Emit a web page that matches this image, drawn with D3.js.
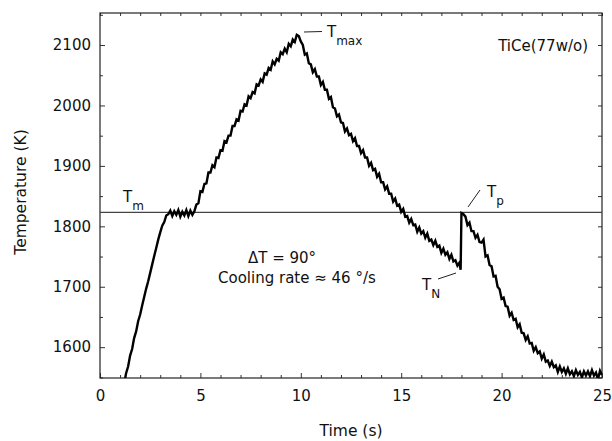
<!DOCTYPE html>
<html>
<head>
<meta charset="utf-8">
<script src="https://cdn.jsdelivr.net/npm/d3@7"></script>
<style>
  body { margin: 0; background: #fff; }
  svg text { font-family: "DejaVu Sans", sans-serif; fill: #111; }
</style>
</head>
<body>
<div id="container"></div>
<script>
const width = 612;
const height = 441;
const plotLeft = 100, plotRight = 602, plotTop = 13, plotBottom = 378;

// temperature trace (s, K)
const timeS = [1.25, 1.3, 1.4, 1.5, 1.6, 1.7, 1.8, 1.9, 2.0, 2.1, 2.2, 2.3, 2.4, 2.5, 2.6, 2.7, 2.8, 2.9, 3.0, 3.1, 3.2, 3.3, 3.4,
  3.5, 3.6, 3.7, 3.8, 3.9, 4.0, 4.1, 4.2, 4.3, 4.4, 4.5, 4.6, 4.7,
  4.8, 4.9, 5.0, 5.1, 5.2, 5.3, 5.4, 5.5, 5.6, 5.7, 5.8, 5.9, 6.0, 6.1, 6.2, 6.3, 6.4, 6.5, 6.6, 6.7, 6.8, 6.9,
  7.0, 7.1, 7.2, 7.3, 7.4, 7.5, 7.6, 7.7, 7.8, 7.9, 8.0, 8.1, 8.2, 8.3, 8.4, 8.5, 8.6, 8.7, 8.8, 8.9,
  9.0, 9.1, 9.2, 9.3, 9.4, 9.5, 9.6, 9.7, 9.8, 9.9,
  10.0, 10.1, 10.2, 10.3, 10.4, 10.5, 10.6, 10.7, 10.8, 10.9, 11.0, 11.1, 11.2, 11.3, 11.4, 11.5, 11.6, 11.7, 11.8, 11.9,
  12.0, 12.1, 12.2, 12.3, 12.4, 12.5, 12.6, 12.7, 12.8, 12.9, 13.0, 13.1, 13.2, 13.3, 13.4, 13.5, 13.6, 13.7, 13.8, 13.9,
  14.0, 14.1, 14.2, 14.3, 14.4, 14.5, 14.6, 14.7, 14.8, 14.9, 15.0, 15.1, 15.2, 15.3, 15.4, 15.5, 15.6, 15.7, 15.8, 15.9,
  16.0, 16.1, 16.2, 16.3, 16.4, 16.5, 16.6, 16.7, 16.8, 16.9, 17.0, 17.1, 17.2, 17.3, 17.4, 17.5, 17.6, 17.7, 17.8, 17.9,
  17.96, 18.0,
  18.1, 18.2, 18.3, 18.4, 18.5, 18.6, 18.7, 18.8, 18.9, 19.0, 19.1, 19.2, 19.3, 19.4, 19.5, 19.6, 19.7, 19.8, 19.9,
  20.0, 20.1, 20.2, 20.3, 20.4, 20.5, 20.6, 20.7, 20.8, 20.9, 21.0, 21.1, 21.2, 21.3, 21.4, 21.5, 21.6, 21.7, 21.8, 21.9,
  22.0, 22.1, 22.2, 22.3, 22.4, 22.5, 22.6, 22.7, 22.8, 22.9, 23.0, 23.1, 23.2, 23.3, 23.4, 23.5, 23.6, 23.7, 23.8, 23.9,
  24.0, 24.1, 24.2, 24.3, 24.4, 24.5, 24.6, 24.7, 24.8, 24.9, 25.0];
const tempK = [1548, 1557, 1568, 1586, 1597, 1615, 1626, 1643, 1654, 1669, 1683, 1697, 1709, 1723, 1737, 1751, 1764, 1778, 1790, 1801, 1807, 1818, 1820,
  1826, 1817, 1825, 1819, 1827, 1816, 1824, 1818, 1827, 1817, 1826, 1819, 1825,
  1836, 1838, 1858, 1857, 1870, 1871, 1889, 1889, 1901, 1898, 1914, 1913, 1926, 1925, 1941, 1939, 1950, 1950, 1966, 1966, 1977, 1975,
  1991, 1990, 2002, 2000, 2015, 2012, 2022, 2020, 2035, 2033, 2043, 2039, 2053, 2051, 2062, 2059, 2073, 2068, 2077, 2074,
  2088, 2085, 2094, 2088, 2102, 2098, 2109, 2105, 2117, 2115,
  2106, 2100, 2084, 2086, 2070, 2068, 2055, 2060, 2048, 2048, 2034, 2039, 2026, 2026, 2011, 2014, 1997, 1995, 1982, 1985,
  1972, 1971, 1957, 1962, 1951, 1953, 1941, 1946, 1933, 1933, 1921, 1926, 1914, 1914, 1900, 1905, 1893, 1895, 1882, 1887,
  1873, 1873, 1861, 1866, 1854, 1854, 1841, 1846, 1834, 1836, 1824, 1829, 1816, 1817, 1806, 1812, 1802, 1803, 1791, 1798,
  1788, 1792, 1781, 1788, 1776, 1778, 1769, 1776, 1766, 1768, 1756, 1763, 1753, 1757, 1746, 1753, 1742, 1744, 1735, 1740,
  1728, 1822,
  1820, 1816, 1802, 1806, 1792, 1792, 1781, 1786, 1774, 1773, 1778, 1750, 1752, 1736, 1734, 1717, 1718, 1700, 1696,
  1680, 1682, 1668, 1667, 1652, 1657, 1645, 1647, 1633, 1638, 1624, 1623, 1612, 1618, 1606, 1607, 1594, 1600, 1590, 1593,
  1581, 1588, 1576, 1578, 1569, 1576, 1567, 1570, 1559, 1568, 1559, 1565, 1556, 1565, 1555, 1560, 1552, 1562, 1554, 1559,
  1550, 1560, 1553, 1560, 1552, 1562, 1553, 1558, 1547, 1561, 1554];

const meltK = 1823;
const xTicks = [0, 5, 10, 15, 20, 25];
const xMinor = [1, 2, 3, 4, 6, 7, 8, 9, 11, 12, 13, 14, 16, 17, 18, 19, 21, 22, 23, 24];
const yTicks = [1600, 1700, 1800, 1900, 2000, 2100];
const yMinor = [1550, 1650, 1750, 1850, 1950, 2050, 2150];

const svg = d3.select('#container')
    .append('svg')
    .attr('width', width)
    .attr('height', height);

const x = d3.scaleLinear().domain([0, 25]).range([plotLeft, plotRight]);
const y = d3.scaleLinear().domain([1549, 2153]).range([plotBottom, plotTop]);

function styleAxis(g) {
    g.select('.domain').remove();
    g.selectAll('line').attr('stroke', '#333');
    g.selectAll('text').attr('font-size', 15).attr('fill', '#111');
}

// bottom / top
svg.append('g').attr('transform', 'translate(0,' + plotBottom + ')')
    .call(d3.axisBottom(x).tickValues(xTicks).tickSize(-5).tickPadding(12).tickSizeOuter(0))
    .call(styleAxis);
svg.append('g').attr('transform', 'translate(0,' + plotBottom + ')')
    .call(d3.axisBottom(x).tickValues(xMinor).tickSize(-3).tickFormat('').tickSizeOuter(0))
    .call(styleAxis);
svg.append('g').attr('transform', 'translate(0,' + plotTop + ')')
    .call(d3.axisTop(x).tickValues(xTicks.concat(xMinor)).tickSize(-3).tickFormat('').tickSizeOuter(0))
    .call(styleAxis);

// left / right
svg.append('g').attr('transform', 'translate(' + plotLeft + ',0)')
    .call(d3.axisLeft(y).tickValues(yTicks).tickSize(-5).tickPadding(9).tickFormat(d3.format('d')).tickSizeOuter(0))
    .call(styleAxis);
svg.append('g').attr('transform', 'translate(' + plotLeft + ',0)')
    .call(d3.axisLeft(y).tickValues(yMinor).tickSize(-3).tickFormat('').tickSizeOuter(0))
    .call(styleAxis);
svg.append('g').attr('transform', 'translate(' + plotRight + ',0)')
    .call(d3.axisRight(y).tickValues(yTicks.concat(yMinor)).tickSize(-4).tickFormat('').tickSizeOuter(0))
    .call(styleAxis);

// frame
svg.append('rect')
    .attr('x', plotLeft).attr('y', plotTop)
    .attr('width', plotRight - plotLeft).attr('height', plotBottom - plotTop)
    .attr('fill', 'none').attr('stroke', '#222').attr('stroke-width', 1.2);

// melting line
svg.append('line')
    .attr('x1', plotLeft).attr('x2', plotRight)
    .attr('y1', y(meltK)).attr('y2', y(meltK))
    .attr('stroke', '#444').attr('stroke-width', 1.1);

svg.append('clipPath').attr('id', 'clip')
    .append('rect').attr('x', plotLeft).attr('y', plotTop)
    .attr('width', plotRight - plotLeft).attr('height', plotBottom - plotTop);

const line = d3.line().x((d, i) => x(timeS[i])).y(d => y(d));
svg.append('path')
    .datum(tempK)
    .attr('clip-path', 'url(#clip)')
    .attr('d', line)
    .attr('fill', 'none')
    .attr('stroke', '#000')
    .attr('stroke-width', 2.4)
    .attr('stroke-linejoin', 'miter');

// axis titles
svg.append('text')
    .attr('x', 351).attr('y', 436)
    .attr('text-anchor', 'middle')
    .attr('font-size', 15.5)
    .text('Time (s)');
svg.append('text')
    .attr('transform', 'translate(26,192) rotate(-90)')
    .attr('text-anchor', 'middle')
    .attr('font-size', 15.5)
    .text('Temperature (K)');

// annotations
function label(tx, ty, main, sub) {
    const t = svg.append('text').attr('x', tx).attr('y', ty).attr('font-size', 15);
    t.append('tspan').text(main);
    t.append('tspan').attr('font-size', 12).attr('dy', 8).text(sub);
}
label(123, 202, 'T', 'm');
label(327, 37, 'T', 'max');
label(487, 197, 'T', 'p');
label(422, 290, 'T', 'N');

const leaders = [
    [304, 32, 322, 31.5],
    [468, 207, 480, 190],
    [438, 279, 456, 273]
];
leaders.forEach(l => {
    svg.append('line')
        .attr('x1', l[0]).attr('y1', l[1]).attr('x2', l[2]).attr('y2', l[3])
        .attr('stroke', '#222').attr('stroke-width', 1);
});

svg.append('text')
    .attr('x', 588).attr('y', 51)
    .attr('text-anchor', 'end')
    .attr('font-size', 15)
    .text('TiCe(77w/o)');
svg.append('text')
    .attr('x', 248).attr('y', 263)
    .attr('font-size', 15)
    .text('\u0394T = 90\u00b0');
svg.append('text')
    .attr('x', 218).attr('y', 283)
    .attr('font-size', 15)
    .text('Cooling rate \u2248 46 \u00b0/s');
</script>
</body>
</html>
